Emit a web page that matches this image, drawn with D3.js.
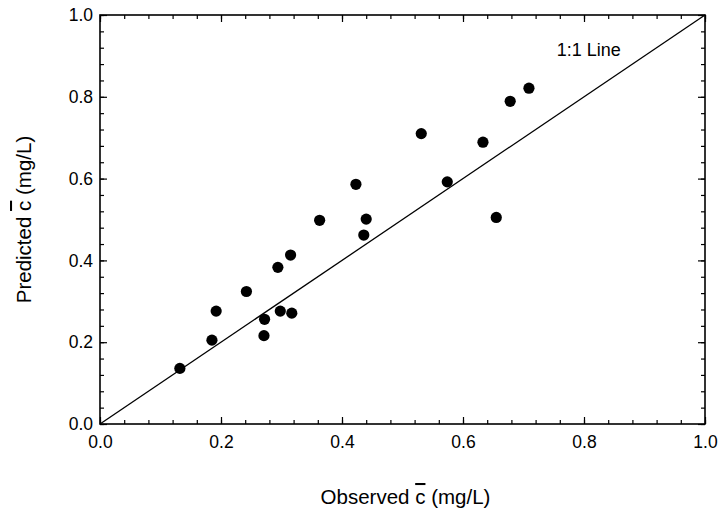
<!DOCTYPE html>
<meta charset="utf-8">
<style>
body { margin: 0; background: #fff; }
text { font-family: "Liberation Sans", Arial, sans-serif; fill: #000; }
.frame { fill: none; stroke: #000; stroke-width: 1.6; }
.axis path { display: none; }
.axis line { stroke: #000; stroke-width: 1.2; }
.axis text { font-size: 17.5px; }
</style>
<body>
<script src="https://d3js.org/d3.v7.min.js"></script>
<script>

// observed vs predicted mean concentration (mg/L)
var observed  = [0.132, 0.185, 0.192, 0.242, 0.271, 0.272, 0.294, 0.298, 0.315, 0.317, 0.363,
                 0.423, 0.436, 0.440, 0.531, 0.574, 0.633, 0.655, 0.678, 0.709];
var predicted = [0.136, 0.205, 0.276, 0.324, 0.216, 0.256, 0.383, 0.276, 0.413, 0.271, 0.498,
                 0.586, 0.462, 0.501, 0.710, 0.592, 0.689, 0.505, 0.789, 0.821];
var majorTicks = [0, 0.2, 0.4, 0.6, 0.8, 1.0];
var minorTicks = d3.range(0, 1.0001, 0.04);
var lineLabel = "1:1 Line";

var width = 721, height = 512;
var margin = {top: 15, right: 16, bottom: 88, left: 100},
    w = width - margin.left - margin.right,
    h = height - margin.top - margin.bottom;

var svg = d3.select("body").append("svg")
    .attr("width", width)
    .attr("height", height);

var g = svg.append("g")
    .attr("transform", "translate(" + margin.left + "," + margin.top + ")");

var x = d3.scaleLinear().domain([0, 1]).range([0, w]);
var y = d3.scaleLinear().domain([0, 1]).range([h, 0]);

var fmt = d3.format(".1f");

// minor ticks on all four sides (pointing inward)
g.append("g").attr("class", "axis")
    .attr("transform", "translate(0," + h + ")")
    .call(d3.axisBottom(x).tickValues(minorTicks).tickSize(-4).tickFormat(""));
g.append("g").attr("class", "axis")
    .call(d3.axisTop(x).tickValues(minorTicks).tickSize(-4).tickFormat(""));
g.append("g").attr("class", "axis")
    .call(d3.axisLeft(y).tickValues(minorTicks).tickSize(-4).tickFormat(""));
g.append("g").attr("class", "axis")
    .attr("transform", "translate(" + w + ",0)")
    .call(d3.axisRight(y).tickValues(minorTicks).tickSize(-4).tickFormat(""));

// major ticks + labels
g.append("g").attr("class", "axis")
    .attr("transform", "translate(0," + h + ")")
    .call(d3.axisBottom(x).tickValues(majorTicks).tickSize(-7).tickPadding(12).tickFormat(fmt));
g.append("g").attr("class", "axis")
    .call(d3.axisLeft(y).tickValues(majorTicks).tickSize(-7).tickPadding(7).tickFormat(fmt));
g.append("g").attr("class", "axis")
    .call(d3.axisTop(x).tickValues(majorTicks).tickSize(-7).tickFormat(""));
g.append("g").attr("class", "axis")
    .attr("transform", "translate(" + w + ",0)")
    .call(d3.axisRight(y).tickValues(majorTicks).tickSize(-7).tickFormat(""));

g.append("rect").attr("class", "frame")
    .attr("width", w).attr("height", h);

// 1:1 line
g.append("line")
    .attr("x1", x(0)).attr("y1", y(0))
    .attr("x2", x(1)).attr("y2", y(1))
    .attr("stroke", "#000").attr("stroke-width", 1.3);

g.append("text")
    .attr("x", x(0.755)).attr("y", y(0.9))
    .style("font-size", "18px")
    .text(lineLabel);

g.selectAll("circle.pt")
    .data(observed)
  .enter().append("circle")
    .attr("class", "pt")
    .attr("cx", function(d) { return x(d); })
    .attr("cy", function(d, i) { return y(predicted[i]); })
    .attr("r", 5.6)
    .attr("fill", "#000");

// axis titles with c-bar
function title(sel, pre) {
  sel.append("tspan").text(pre + " ");
  sel.append("tspan").style("text-decoration", "overline").text("c");
  sel.append("tspan").text(" (mg/L)");
}

var xt = svg.append("text")
    .attr("x", margin.left + w / 2 + 3)
    .attr("y", 504)
    .attr("text-anchor", "middle")
    .style("font-size", "20.5px");
title(xt, "Observed");

var yt = svg.append("text")
    .attr("transform", "translate(31," + (margin.top + h / 2) + ") rotate(-90)")
    .attr("text-anchor", "middle")
    .style("font-size", "20.5px");
title(yt, "Predicted");

</script>
